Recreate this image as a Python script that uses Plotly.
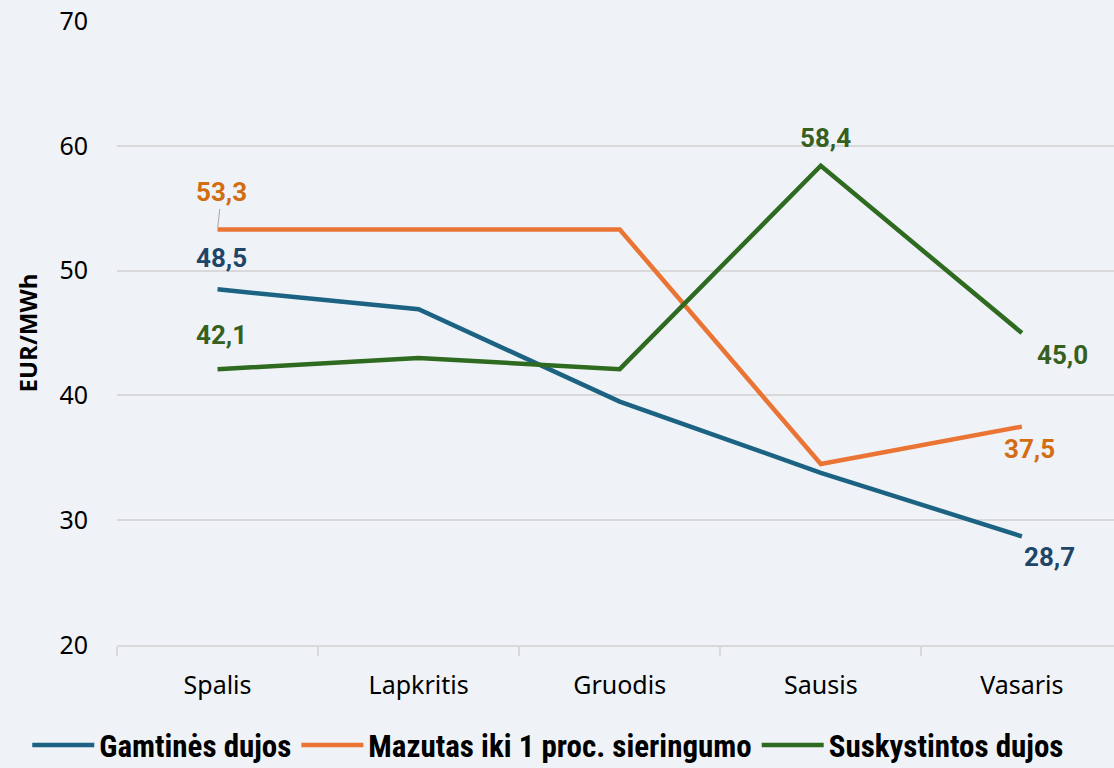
import plotly.graph_objects as go

months = ["Spalis", "Lapkritis", "Gruodis", "Sausis", "Vasaris"]
gamtines = [48.5, 46.9, 39.5, 33.8, 28.7]
mazutas = [53.3, 53.3, 53.3, 34.5, 37.5]
suskystintos = [42.1, 43.0, 42.1, 58.4, 45.0]

series = [
    ("Gamtinės dujos", gamtines, "#1b6283", "#1f4668"),
    ("Mazutas iki 1 proc. sieringumo", mazutas, "#ea7434", "#d26d12"),
    ("Suskystintos dujos", suskystintos, "#2e6a1f", "#356020"),
]

# which points get a data label: (series index, point index, xshift, yshift)
labels = [
    (0, 0, 4, 31), (0, 4, 28, -21),
    (1, 4, 8, -22),
    (2, 0, 4, 34), (2, 3, 5, 28), (2, 4, 41, -22),
]


def fmt(v):
    return "<b>" + f"{v:.1f}".replace(".", ",") + "</b>"


fig = go.Figure()
for name, vals, color, _ in series:
    fig.add_trace(go.Scatter(
        x=months, y=vals, mode="lines", name=name,
        line=dict(color=color, width=4.5),
    ))

for si, pi, dx, dy in labels:
    name, vals, _, lcolor = series[si]
    fig.add_annotation(
        x=months[pi], y=vals[pi], text=fmt(vals[pi]),
        showarrow=False, xshift=dx, yshift=dy,
        font=dict(family="Roboto, sans-serif", size=26, color=lcolor),
    )

# orange first label sits a bit higher, with a small leader line
fig.add_annotation(
    x=months[0], y=mazutas[0], text=fmt(mazutas[0]),
    showarrow=True, arrowhead=0, arrowwidth=1, arrowcolor="#a6a6a6",
    ax=4, ay=-37, standoff=2,
    font=dict(family="Roboto, sans-serif", size=26, color=series[1][3]),
)

fig.update_layout(
    width=1114, height=768,
    paper_bgcolor="#eff3f7", plot_bgcolor="#eff3f7",
    margin=dict(l=117, r=0, t=21, b=123, autoexpand=False),
    font=dict(family="Noto Sans, sans-serif", size=25, color="#000000"),
    showlegend=True,
    legend=dict(
        orientation="h", xref="paper", yref="paper",
        x=-0.09, xanchor="left", y=-0.161, yanchor="middle",
        font=dict(family="Liberation Sans Narrow, Roboto Condensed, Arial Narrow, sans-serif",
                  size=31, color="#000000", weight="bold"),
        itemwidth=62, tracegroupgap=0, bgcolor="rgba(0,0,0,0)",
    ),
)
fig.update_yaxes(
    range=[20, 70], dtick=10, showgrid=True, gridcolor="#d9d9d9", gridwidth=1.5,
    zeroline=False, showline=False, ticks="", ticklabelstandoff=28,
    title=dict(text="<b>EUR/MWh</b>", font=dict(family="Open Sans, sans-serif", size=24), standoff=14),
)
fig.update_xaxes(
    range=[-0.5, 4.458], showgrid=False, showline=True, linecolor="#d9d9d9", linewidth=1.5,
    ticks="outside", tickson="boundaries", ticklen=9, tickcolor="#d9d9d9", tickwidth=1.5,
    ticklabelstandoff=17,
)

fig.write_html("out.html", config={"displayModeBar": False},
               post_script="document.body.style.margin='0';document.body.style.background='#eff3f7';")
